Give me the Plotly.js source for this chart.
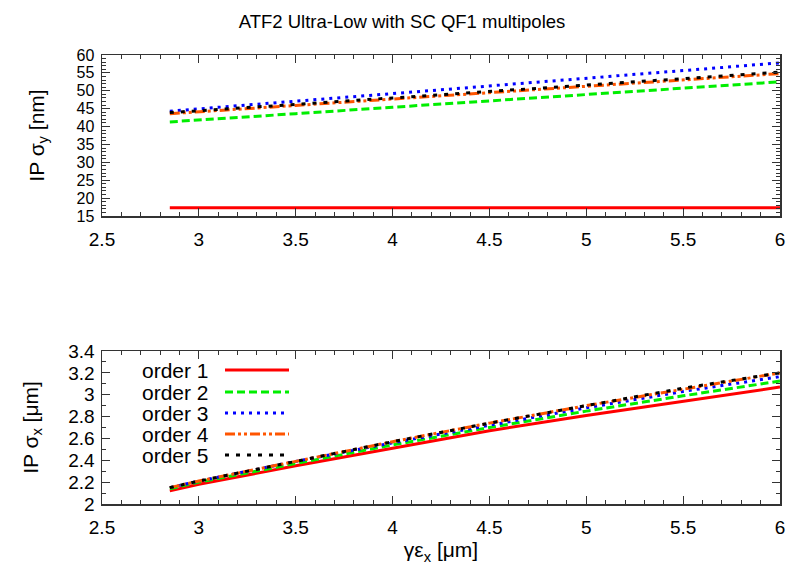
<!DOCTYPE html>
<html>
<head>
<meta charset="utf-8">
<script src="https://cdn.plot.ly/plotly-3.0.1.min.js"></script>
<style>html,body{margin:0;padding:0;background:#fff;}#plot{width:791px;height:568px;}</style>
</head>
<body>
<div id="plot"></div>
<script>
// emittance values gamma*eps_x [um]
const emitX = [2.85, 3.0, 3.5, 4.0, 4.5, 5.0, 5.5, 6.0];
// IP sigma_y [nm]
const sigY1 = [17.3, 17.3, 17.3, 17.3, 17.3, 17.3, 17.3, 17.3];
const sigY2 = [41.3, 41.8, 43.6, 45.4, 47.2, 48.9, 50.7, 52.5];
const sigY3 = [44.3, 44.9, 47.1, 49.2, 51.4, 53.5, 55.7, 57.8];
const sigY4 = [43.6, 44.1, 45.9, 47.7, 49.5, 51.2, 53.0, 54.8];
const sigY5 = [43.9, 44.4, 46.2, 48.0, 49.8, 51.6, 53.4, 55.2];
// IP sigma_x [um]
const sigX1 = [2.12, 2.18, 2.35, 2.51, 2.67, 2.81, 2.94, 3.07];
const sigX2 = [2.14, 2.20, 2.37, 2.54, 2.70, 2.85, 2.99, 3.125];
const sigX3 = [2.15, 2.21, 2.39, 2.56, 2.72, 2.88, 3.03, 3.165];
const sigX4 = [2.15, 2.21, 2.39, 2.57, 2.74, 2.90, 3.05, 3.20];
const sigX5 = [2.15, 2.21, 2.39, 2.57, 2.74, 2.90, 3.06, 3.20];
const seriesNames = ['order 1', 'order 2', 'order 3', 'order 4', 'order 5'];

const colors = ['#ff0000', '#00ee00', '#0000ff', '#ff5500', '#000000'];
const dashes = ['solid', '8px,4px', '3px,5px', '10px,3px,3px,3px,3px,3px', '4px,7px'];
const lw = 3;

const ys = [sigY1, sigY2, sigY3, sigY4, sigY5];
const xs = [sigX1, sigX2, sigX3, sigX4, sigX5];
const traces = [];
ys.forEach((v, i) => traces.push({x: emitX, y: v, xaxis: 'x', yaxis: 'y', mode: 'lines', name: seriesNames[i], showlegend: false, line: {color: colors[i], width: lw, dash: dashes[i]}}));
xs.forEach((v, i) => traces.push({x: emitX, y: v, xaxis: 'x2', yaxis: 'y2', mode: 'lines', name: seriesNames[i], showlegend: false, line: {color: colors[i], width: lw, dash: dashes[i]}}));

const fam = 'Liberation Sans, Arial, sans-serif';
const tickFont = {family: fam, size: 19, color: '#000'};
const tickFontDense = {family: fam, size: 16, color: '#000'};
const axTitleFont = {family: fam, size: 21, color: '#000'};
const legFont = {family: fam, size: 21, color: '#000'};
const axCommon = {
  showline: true, linecolor: '#333', linewidth: 1.5, mirror: 'ticks',
  ticks: 'inside', ticklen: 8, tickwidth: 1, tickcolor: '#333',
  showgrid: false, zeroline: false, tickfont: tickFont
};
const xaxisBase = Object.assign({}, axCommon, {range: [2.5, 6], tickmode: 'linear', tick0: 2.5, dtick: 0.5, ticklabelstandoff: 6,
  minor: {dtick: 0.1, ticklen: 4, tickcolor: '#333', ticks: 'inside', showgrid: false}});

const H = 568, mt = 55, mb = 64;
const ph = H - mt - mb;
function fy(px) { return (H - mb - px) / ph; }

// Legend drawn gnuplot-style: text then line sample
const legendY = [370, 392, 413, 434, 455];
const annotations = [];
const shapes = [];
seriesNames.forEach((n, i) => {
  annotations.push({xref: 'paper', yref: 'paper', x: (211 - 102) / 678, y: fy(legendY[i]), xanchor: 'right', yanchor: 'middle', text: n, showarrow: false, font: legFont});
  shapes.push({type: 'line', xref: 'paper', yref: 'paper', x0: (225 - 102) / 678, x1: (289 - 102) / 678, y0: fy(legendY[i]), y1: fy(legendY[i]), line: {color: colors[i], width: lw, dash: dashes[i]}});
});

const layout = {
  width: 791, height: 568,
  margin: {l: 102, r: 11, t: mt, b: mb},
  paper_bgcolor: '#fff', plot_bgcolor: '#fff',
  font: tickFont,
  title: {text: 'ATF2 Ultra-Low with SC QF1 multipoles', font: {family: fam, size: 18.5, color: '#000'}, x: 402 / 791, xref: 'container', xanchor: 'center', y: 1 - 22 / 568, yref: 'container', yanchor: 'middle'},
  xaxis: Object.assign({}, xaxisBase, {anchor: 'y', domain: [0, 1]}),
  yaxis: Object.assign({}, axCommon, {anchor: 'x', domain: [fy(216), 1], range: [15, 60], tickmode: 'linear', tick0: 15, dtick: 5, ticklabelstandoff: 3, tickfont: tickFontDense,
    minor: {dtick: 1, ticklen: 4, tickcolor: '#333', ticks: 'inside', showgrid: false},
    title: {text: 'IP σ<sub>y</sub> [nm]', font: axTitleFont, standoff: 26}}),
  xaxis2: Object.assign({}, xaxisBase, {anchor: 'y2', domain: [0, 1],
    title: {text: 'γε<sub>x</sub> [μm]', font: axTitleFont, standoff: 5}}),
  yaxis2: Object.assign({}, axCommon, {anchor: 'x2', domain: [0, fy(351)], range: [2, 3.4], tickmode: 'linear', tick0: 2, dtick: 0.2, ticklabelstandoff: 2,
    minor: {dtick: 0.1, ticklen: 4, tickcolor: '#333', ticks: 'inside', showgrid: false},
    title: {text: 'IP σ<sub>x</sub> [μm]', font: axTitleFont, standoff: 24}}),
  annotations: annotations,
  shapes: shapes,
  showlegend: false
};

Plotly.newPlot('plot', traces, layout, {displayModeBar: false, staticPlot: true});
</script>
</body>
</html>
